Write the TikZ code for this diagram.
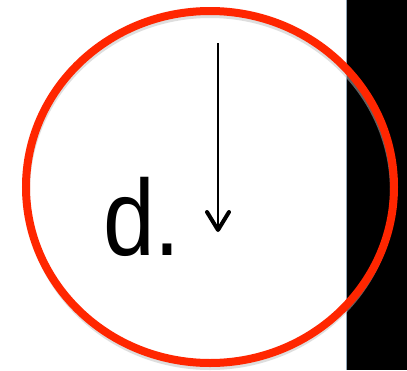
\documentclass[tikz,border=0pt]{standalone}
\usepackage{fontspec}
\setmainfont{Liberation Sans}
\usetikzlibrary{arrows.meta}
\definecolor{ringred}{HTML}{FF2600}
\definecolor{edgeblue}{HTML}{8FA3B5}
\tikzset{
  ring/.style={draw=ringred, line width=8pt},
  ringshadow/.style={draw=black!25, line width=6pt},
  downarrow/.style={draw=black, line width=1.8pt, -{Straight Barb[length=18pt, width=22pt, line width=4pt, round]}},
  biglabel/.style={font=\fontsize{108}{108}\selectfont, inner sep=0pt, anchor=base west, xscale=0.86}
}
\begin{document}
\begin{tikzpicture}[x=1pt,y=-1pt]
\useasboundingbox (0,0) rectangle (407,370);
\fill[white] (0,0) rectangle (407,370);
\fill[black] (347,0) rectangle (407,370);
\draw[edgeblue, line width=1.2pt] (346.6,0) -- (346.6,370);
\draw[ringshadow, opacity=0.5] (210,191) ellipse [x radius=183, y radius=176];
\draw[ring] (210,187) ellipse [x radius=184, y radius=176];
\coordinate (top) at (218,43);
\coordinate (tip) at (218,232);
\draw[downarrow] (top) -- (tip);
\node[biglabel] (lbl) at (103,255) {d.};
\end{tikzpicture}
\end{document}
